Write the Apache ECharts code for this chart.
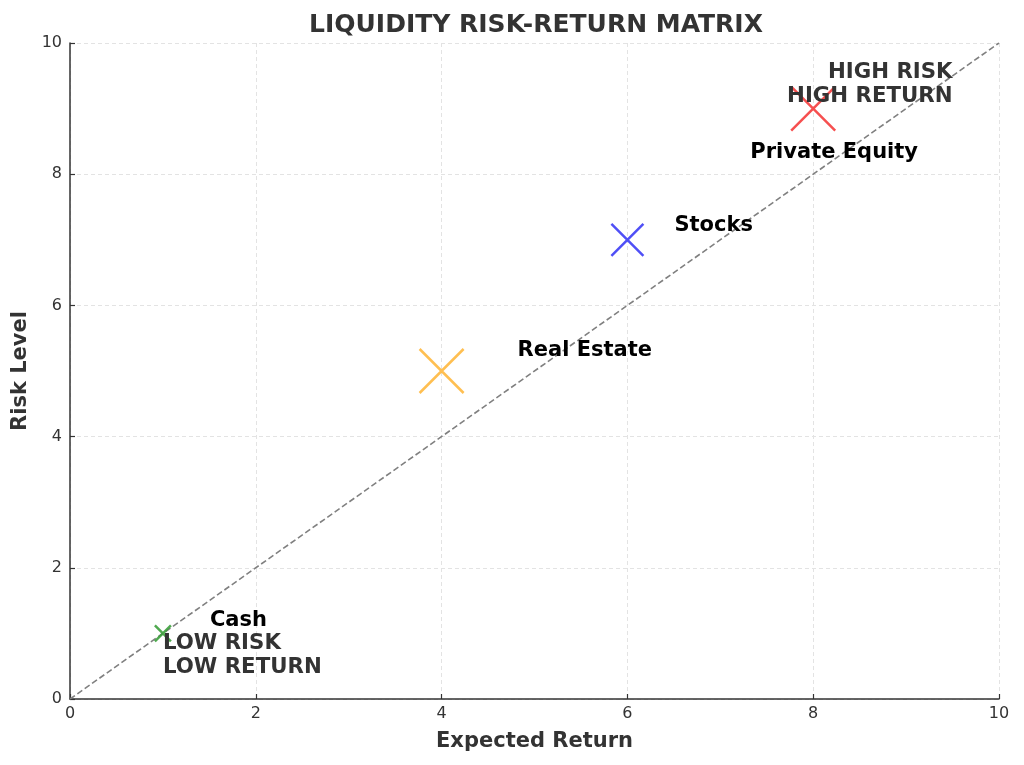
<!DOCTYPE html>
<html>
<head>
<meta charset="utf-8">
<script src="https://cdn.jsdelivr.net/npm/echarts@6/dist/echarts.min.js"></script>
<style>html,body{margin:0;padding:0;background:#fff}#c{width:1024px;height:765px}</style>
</head>
<body>
<div id="c"></div>
<script>
const assets = ['Cash', 'Real Estate', 'Stocks', 'Private Equity'];
const expectedReturn = [1, 4, 6, 8];
const riskLevel = [1, 5, 7, 9];
const markerSize = [16, 44, 32, 44];
const colors = ['rgba(60,160,60,0.9)', 'rgba(255,180,50,0.85)', 'rgba(60,60,245,0.9)', 'rgba(245,60,60,0.9)'];
const diagonal = [[0, 0], [10, 10]];
const annotations = [
  { text: 'HIGH RISK\nHIGH RETURN', x: 9.5, y: 9.37, align: 'right' },
  { text: 'LOW RISK\nLOW RETURN', x: 1.0, y: 0.66, align: 'left' }
];
const axisTicks = [0, 2, 4, 6, 8, 10];

const labelPlacement = [
  { offset: [47, -13], align: 'left' },
  { offset: [76, -20], align: 'left' },
  { offset: [47, -14], align: 'left' },
  { offset: [21, 44], align: 'center' }
];

const FONT = 'DejaVu Sans';
const xPath = 'path://M0,0L10,10M10,0L0,10';

const chart = echarts.init(document.getElementById('c'), null, { renderer: 'canvas' });

const pointData = assets.map((name, i) => ({
  name: name,
  value: [expectedReturn[i], riskLevel[i]],
  symbolSize: markerSize[i],
  itemStyle: { color: 'none', borderColor: colors[i], borderWidth: 2.5, opacity: 1 },
  label: {
    show: true,
    formatter: name,
    position: 'inside',
    offset: [labelPlacement[i].offset[0], labelPlacement[i].offset[1]],
    align: labelPlacement[i].align,
    verticalAlign: 'middle',
    color: '#000',
    fontFamily: FONT,
    fontWeight: 'bold',
    fontSize: 21
  }
}));

const annData = annotations.map(a => ({
  value: [a.x, a.y],
  itemStyle: { opacity: 1 },
  label: {
    show: true,
    formatter: a.text,
    position: 'inside',
    align: a.align,
    verticalAlign: 'middle',
    color: '#333',
    fontFamily: FONT,
    fontWeight: 'bold',
    fontSize: 21.3,
    lineHeight: 24
  }
}));

const axisCommon = {
  type: 'value',
  min: axisTicks[0],
  max: axisTicks[axisTicks.length - 1],
  interval: axisTicks[1] - axisTicks[0],
  nameLocation: 'middle',
  nameTextStyle: { fontFamily: FONT, fontWeight: 'bold', fontSize: 21, color: '#333' },
  axisLine: { show: true, onZero: false, lineStyle: { color: '#333', width: 1.5 } },
  axisTick: { show: true, inside: true, length: 5, lineStyle: { color: '#333', width: 1.2 } },
  axisLabel: { fontFamily: FONT, fontSize: 16, color: '#333' },
  splitLine: { show: true, lineStyle: { color: '#e3e3e3', type: [4, 3], width: 1 } }
};

chart.setOption({
  backgroundColor: '#fff',
  animation: false,
  title: {
    text: 'LIQUIDITY RISK-RETURN MATRIX',
    left: 531, top: 8, textAlign: 'center',
    textStyle: { fontFamily: FONT, fontWeight: 'bold', fontSize: 25, color: '#333' }
  },
  grid: { left: 70, right: 25, top: 43, bottom: 66, containLabel: false },
  xAxis: Object.assign({}, axisCommon, {
    name: 'Expected Return', nameGap: 32,
    axisLabel: Object.assign({}, axisCommon.axisLabel, { margin: 7 })
  }),
  yAxis: Object.assign({}, axisCommon, {
    name: 'Risk Level', nameGap: 35,
    axisLabel: Object.assign({}, axisCommon.axisLabel, { margin: 8 })
  }),
  series: [
    {
      type: 'line',
      data: diagonal,
      symbol: 'none',
      lineStyle: { color: '#808080', width: 1.6, type: [6, 3] },
      silent: true,
      z: 1
    },
    {
      type: 'scatter',
      data: pointData,
      symbol: xPath,
      z: 3
    },
    {
      type: 'scatter',
      data: annData,
      symbolSize: 0,
      silent: true,
      z: 4
    }
  ]
});
</script>
</body>
</html>
